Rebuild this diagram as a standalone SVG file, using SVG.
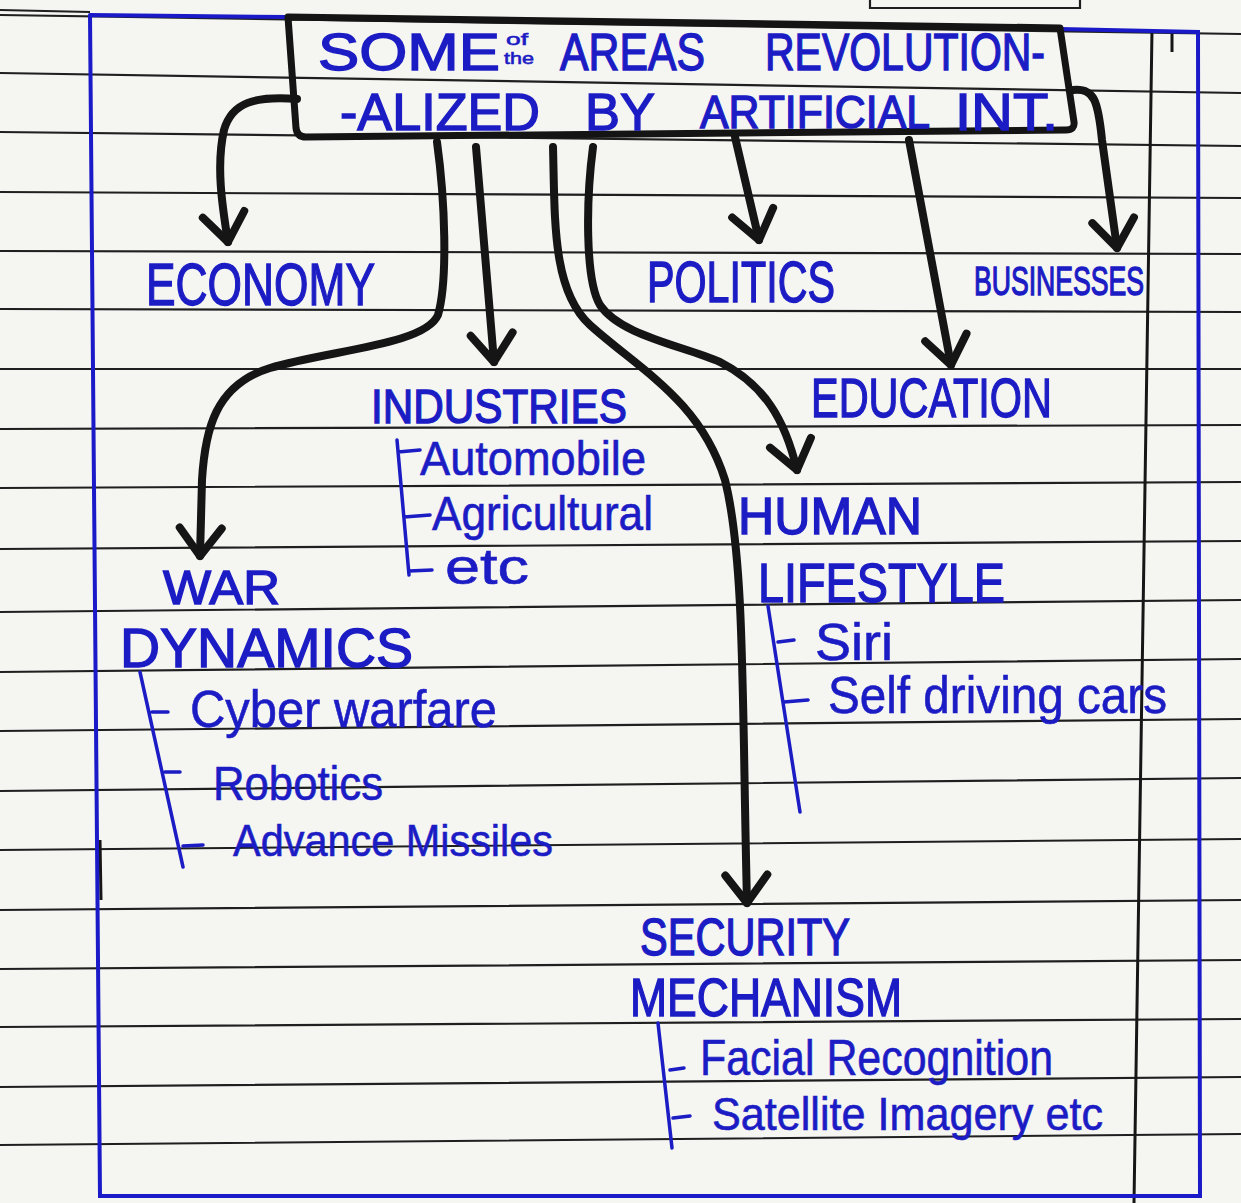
<svg xmlns="http://www.w3.org/2000/svg" width="1241" height="1203" viewBox="0 0 1241 1203">
  <style>
    .rule { fill: none; stroke: #1f1f1f; stroke-width: 2.2; }
    .frame { fill: none; stroke: #1a1ac8; stroke-width: 4; stroke-linecap: round; }
    .margin { fill: none; stroke: #161616; stroke-width: 3; }
    .box { fill: none; stroke: #141414; stroke-width: 7; stroke-linejoin: round; }
    .conn { fill: none; stroke: #151515; stroke-width: 8; stroke-linecap: round; stroke-linejoin: round; }
    .head { font-family: "Liberation Sans", Arial, sans-serif; fill: #1c1cc4; stroke: #1c1cc4; stroke-width: 1.4; }
    .item { font-family: "Liberation Sans", Arial, sans-serif; fill: #1c1cc4; stroke: #1c1cc4; stroke-width: 0.6; }
    .brk { fill: none; stroke: #1c1cc4; stroke-width: 3.5; stroke-linecap: round; stroke-linejoin: round; }
  </style>
  <defs>
    <marker id="ah" markerUnits="userSpaceOnUse" orient="auto" markerWidth="70" markerHeight="70" viewBox="-40 -35 70 70" refX="0" refY="0" overflow="visible">
      <path d="M-28,-21 L0,0 L-28,21" fill="none" stroke="#151515" stroke-width="8" stroke-linecap="round" stroke-linejoin="round"/>
    </marker>
  </defs>

  <!-- paper -->
  <g id="paper">
    <rect x="0" y="0" width="1241" height="1203" fill="#f5f5f2"/>
    <path class="rule" d="M0,10 L90,12 M0,15 L1241,34 M0,73 L1241,93 M0,132 L1241,146 M0,192 L1241,198 M0,251 L1241,254 M0,309 L1241,312 M0,369 L1241,369 M0,429 L1241,425 M0,488 L1241,482 M0,549 L1241,541 M0,612 L1241,600 M0,672 L1241,659 M0,731 L1241,719 M0,791 L1241,778 M0,850 L1241,839 M0,910 L1241,900 M0,969 L1241,960 M0,1027 L1241,1019 M0,1087 L1241,1077 M0,1145 L1241,1134"/>
    <path class="margin" d="M1152,30 L1134,1203 M1172,30 L1172,52 M100,840 L101,900"/>
    <path class="rule" d="M870,0 L870,8 L1080,8 L1080,0"/>
    <path class="frame" d="M90,15 L287,17 M90,15 L100,1196 L1200,1196 L1198,32 L1060,29"/>
  </g>

  <!-- connectors -->
  <g id="connectors">
    <path class="conn" marker-end="url(#ah)" d="M297,99 C255,96 232,102 224,130 C216,165 222,205 228,242"/>
    <path class="conn" marker-end="url(#ah)" d="M437,142 C445,200 448,280 438,315 C425,345 330,350 270,368 C215,385 205,430 202,480 L200,556"/>
    <path class="conn" marker-end="url(#ah)" d="M476,147 L494,362"/>
    <path class="conn" marker-end="url(#ah)" d="M553,147 C555,220 552,290 590,325 C640,370 700,400 725,480 C745,560 742,700 747,903"/>
    <path class="conn" marker-end="url(#ah)" d="M593,147 C586,200 585,280 600,305 C620,335 680,345 720,362 C765,385 785,420 797,470"/>
    <path class="conn" marker-end="url(#ah)" d="M735,137 L759,240"/>
    <path class="conn" marker-end="url(#ah)" d="M909,140 L951,365"/>
    <path class="conn" marker-end="url(#ah)" d="M1073,90 C1094,88 1098,100 1102,140 L1117,248"/>
  </g>

  <!-- title -->
  <g id="title">
    <path class="box" d="M288,17 L1060,28 L1074,122 Q1075,130 1066,130 L306,137 Q297,137 296,128 Z"/>
    <text class="head" x="318" y="70" font-size="52" textLength="182" lengthAdjust="spacingAndGlyphs">SOME</text>
    <text class="item" x="506" y="45" font-size="17" textLength="22" lengthAdjust="spacingAndGlyphs">of</text>
    <text class="item" x="504" y="64" font-size="17" textLength="30" lengthAdjust="spacingAndGlyphs">the</text>
    <text class="head" x="560" y="70" font-size="52" textLength="145" lengthAdjust="spacingAndGlyphs">AREAS</text>
    <text class="head" x="765" y="70" font-size="52" textLength="280" lengthAdjust="spacingAndGlyphs">REVOLUTION-</text>
    <text class="head" x="340" y="130" font-size="52" textLength="200" lengthAdjust="spacingAndGlyphs">-ALIZED</text>
    <text class="head" x="585" y="130" font-size="52" textLength="70" lengthAdjust="spacingAndGlyphs">BY</text>
    <text class="head" x="700" y="128" font-size="46" textLength="230" lengthAdjust="spacingAndGlyphs">ARTIFICIAL</text>
    <text class="head" x="955" y="130" font-size="52" textLength="103" lengthAdjust="spacingAndGlyphs">INT.</text>
  </g>

  <g id="economy">
    <text class="head" x="146" y="305" font-size="60" textLength="229" lengthAdjust="spacingAndGlyphs">ECONOMY</text>
  </g>
  <g id="politics">
    <text class="head" x="647" y="302" font-size="58" textLength="188" lengthAdjust="spacingAndGlyphs">POLITICS</text>
  </g>
  <g id="businesses">
    <text class="head" x="974" y="295" font-size="40" textLength="170" lengthAdjust="spacingAndGlyphs">BUSINESSES</text>
  </g>
  <g id="industries">
    <text class="head" x="371" y="423" font-size="48" textLength="256" lengthAdjust="spacingAndGlyphs">INDUSTRIES</text>
    <path class="brk" d="M397,440 L409,575 M398,452 L420,450 M404,517 L430,515 M409,571 L432,570"/>
    <text class="item" x="420" y="475" font-size="48" textLength="226" lengthAdjust="spacingAndGlyphs">Automobile</text>
    <text class="item" x="432" y="530" font-size="48" textLength="221" lengthAdjust="spacingAndGlyphs">Agricultural</text>
    <text class="item" x="445" y="584" font-size="50" textLength="84" lengthAdjust="spacingAndGlyphs">etc</text>
  </g>
  <g id="education">
    <text class="head" x="811" y="417" font-size="56" textLength="241" lengthAdjust="spacingAndGlyphs">EDUCATION</text>
  </g>
  <g id="war-dynamics">
    <text class="head" x="163" y="604" font-size="48" textLength="117" lengthAdjust="spacingAndGlyphs">WAR</text>
    <text class="head" x="120" y="667" font-size="56" textLength="293" lengthAdjust="spacingAndGlyphs">DYNAMICS</text>
    <path class="brk" d="M140,672 L183,867 M152,712 L168,712 M165,772 L180,772 M183,846 L203,845"/>
    <text class="item" x="190" y="727" font-size="52" textLength="307" lengthAdjust="spacingAndGlyphs">Cyber warfare</text>
    <text class="item" x="213" y="800" font-size="48" textLength="170" lengthAdjust="spacingAndGlyphs">Robotics</text>
    <text class="item" x="233" y="856" font-size="44" textLength="320" lengthAdjust="spacingAndGlyphs">Advance Missiles</text>
  </g>
  <g id="human-lifestyle">
    <text class="head" x="738" y="534" font-size="52" textLength="184" lengthAdjust="spacingAndGlyphs">HUMAN</text>
    <text class="head" x="758" y="602" font-size="56" textLength="247" lengthAdjust="spacingAndGlyphs">LIFESTYLE</text>
    <path class="brk" d="M768,606 L800,812 M778,642 L794,640 M784,702 L808,700"/>
    <text class="item" x="815" y="660" font-size="52" textLength="78" lengthAdjust="spacingAndGlyphs">Siri</text>
    <text class="item" x="828" y="713" font-size="52" textLength="339" lengthAdjust="spacingAndGlyphs">Self driving cars</text>
  </g>
  <g id="security-mechanism">
    <text class="head" x="640" y="955" font-size="52" textLength="210" lengthAdjust="spacingAndGlyphs">SECURITY</text>
    <text class="head" x="630" y="1016" font-size="54" textLength="272" lengthAdjust="spacingAndGlyphs">MECHANISM</text>
    <path class="brk" d="M658,1023 L672,1148 M670,1070 L684,1068 M673,1118 L690,1116"/>
    <text class="item" x="700" y="1075" font-size="50" textLength="353" lengthAdjust="spacingAndGlyphs">Facial Recognition</text>
    <text class="item" x="712" y="1130" font-size="46" textLength="391" lengthAdjust="spacingAndGlyphs">Satellite Imagery etc</text>
  </g>
</svg>
